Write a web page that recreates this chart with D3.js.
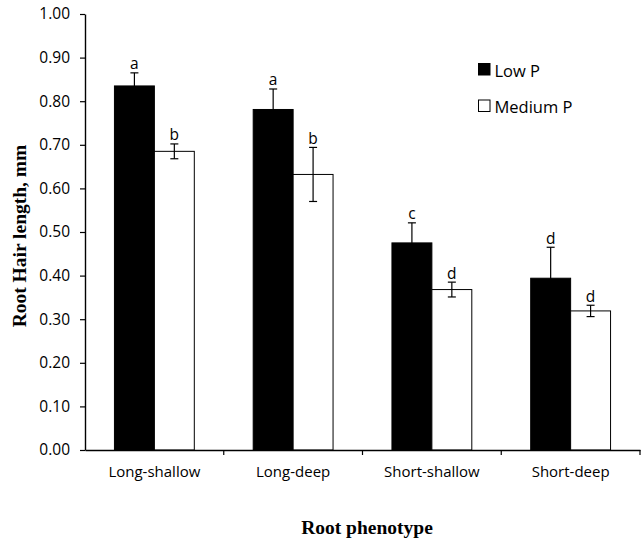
<!DOCTYPE html>
<html>
<head>
<meta charset="utf-8">
<script src="https://cdn.jsdelivr.net/npm/d3@7"></script>
<style>
  html, body { margin: 0; padding: 0; background: #fff; }
  svg { display: block; }
</style>
</head>
<body>
<svg id="chart" width="641" height="540"></svg>
<script>
// ---- data ----
const categories = ["Long-shallow", "Long-deep", "Short-shallow", "Short-deep"];
const seriesNames = ["Low P", "Medium P"];
const lowP = [0.835, 0.781, 0.475, 0.394];
const lowPErr = [0.030, 0.047, 0.046, 0.071];
const mediumP = [0.685, 0.632, 0.368, 0.319];
const mediumPErr = [0.017, 0.062, 0.017, 0.013];
const lowPLetters = ["a", "a", "c", "d"];
const mediumPLetters = ["b", "b", "d", "d"];
const yTicks = [0, 0.1, 0.2, 0.3, 0.4, 0.5, 0.6, 0.7, 0.8, 0.9, 1.0];

(function () {
const rows = [];
categories.forEach((c, i) => {
  rows.push({cat: c, series: "Low P", value: lowP[i], err: lowPErr[i], letter: lowPLetters[i]});
  rows.push({cat: c, series: "Medium P", value: mediumP[i], err: mediumPErr[i], letter: mediumPLetters[i]});
});

const svg = d3.select("#chart");
const mLeft = 85, mRight = 640, mTop = 14, mBottom = 450;
const sans = "'Open Sans', 'Liberation Sans', sans-serif";
const serif = "'Liberation Serif', 'DejaVu Serif', serif";

const x = d3.scaleBand().domain(categories).range([mLeft, mRight]).padding(0);
const xs = d3.scaleBand().domain(seriesNames).range([0, x.bandwidth()]).paddingInner(0).paddingOuter(0.7375);
const y = d3.scaleLinear().domain([0, 1]).range([mBottom, mTop]);
const fill = d3.scaleOrdinal().domain(seriesNames).range(["#000", "#fff"]);

// bars
svg.append("g").selectAll("rect").data(rows).join("rect")
  .attr("x", d => x(d.cat) + xs(d.series))
  .attr("y", d => y(d.value))
  .attr("width", xs.bandwidth())
  .attr("height", d => y(0) - y(d.value))
  .attr("fill", d => fill(d.series))
  .attr("stroke", "#000")
  .attr("stroke-width", 1);

// error bars
const eb = svg.append("g").attr("stroke", "#000").attr("stroke-width", 1.2);
rows.forEach(d => {
  const cx = x(d.cat) + xs(d.series) + xs.bandwidth() / 2;
  const y1 = y(d.value + d.err), y0 = y(d.value - d.err);
  eb.append("line").attr("x1", cx).attr("x2", cx).attr("y1", y1).attr("y2", y0);
  eb.append("line").attr("x1", cx - 4).attr("x2", cx + 4).attr("y1", y1).attr("y2", y1);
  eb.append("line").attr("x1", cx - 4).attr("x2", cx + 4).attr("y1", y0).attr("y2", y0);
});

// letters
svg.append("g").selectAll("text").data(rows).join("text")
  .attr("x", d => x(d.cat) + xs(d.series) + xs.bandwidth() / 2)
  .attr("y", d => y(d.value + d.err) - 3.5)
  .attr("text-anchor", "middle")
  .attr("font-family", sans).attr("font-size", 15.5)
  .attr("fill", "#000")
  .text(d => d.letter);

// y axis
const yAxis = svg.append("g").attr("transform", `translate(${mLeft},0)`)
  .call(d3.axisLeft(y).tickValues(yTicks).tickFormat(d3.format(".2f")).tickSize(5).tickSizeOuter(0).tickPadding(10));
yAxis.selectAll("text").attr("font-family", sans).attr("font-size", 15.5).attr("fill", "#000");
yAxis.select(".domain").attr("stroke", "#000").attr("stroke-width", 1.4);
yAxis.selectAll(".tick line").attr("stroke", "#000").attr("stroke-width", 1.2);

// x axis
const xAxis = svg.append("g").attr("transform", `translate(0,${mBottom})`)
  .call(d3.axisBottom(x).tickSize(0).tickSizeOuter(0).tickPadding(16));
xAxis.selectAll("text").attr("font-family", sans).attr("font-size", 15).attr("fill", "#000");
xAxis.select(".domain").attr("stroke", "#000").attr("stroke-width", 1.4);
const bounds = categories.map(c => x(c)).slice(1).concat([x.range()[1]]);
xAxis.selectAll("line.bound").data(bounds).join("line").attr("class", "bound")
  .attr("x1", d => d).attr("x2", d => d).attr("y1", 0).attr("y2", 5)
  .attr("stroke", "#000").attr("stroke-width", 1.2);

// axis titles
svg.append("text")
  .attr("transform", `translate(25.5,${(mTop + mBottom) / 2 + 4}) rotate(-90)`)
  .attr("text-anchor", "middle")
  .attr("font-family", serif).attr("font-weight", "bold").attr("font-size", 19.5)
  .text("Root Hair length, mm");
svg.append("text")
  .attr("x", 367).attr("y", 534)
  .attr("text-anchor", "middle")
  .attr("font-family", serif).attr("font-weight", "bold").attr("font-size", 19.5)
  .text("Root phenotype");

// legend
const legend = svg.append("g").attr("transform", "translate(478,63)");
seriesNames.forEach((s, i) => {
  const g = legend.append("g").attr("transform", `translate(0,${i * 36.5})`);
  g.append("rect").attr("x", 0.5).attr("y", 0.5).attr("width", 11.5).attr("height", 11.5)
    .attr("fill", fill(s)).attr("stroke", "#000").attr("stroke-width", 1);
  g.append("text").attr("x", 16.5).attr("y", 13.5)
    .attr("font-family", sans).attr("font-size", 16.5).attr("fill", "#000")
    .text(s);
});
})();
</script>
</body>
</html>
